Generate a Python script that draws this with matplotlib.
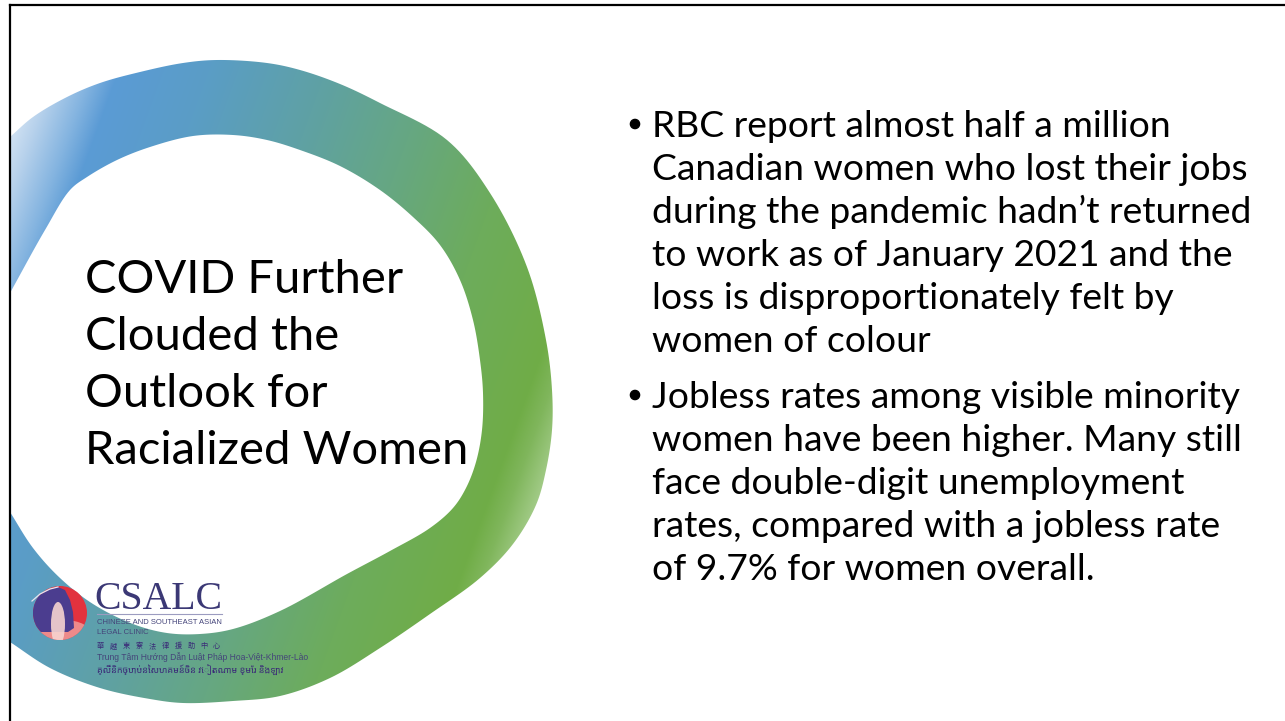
"""Slide recreation: COVID Further Clouded the Outlook for Racialized Women."""
import matplotlib
matplotlib.use("Agg")
import matplotlib.pyplot as plt
import numpy as np
from matplotlib.patches import Polygon, Circle, Ellipse

W, H = 1285, 721

# ---------------------------------------------------------------------------
# Texts
# ---------------------------------------------------------------------------
TITLE_LINES = ["COVID Further", "Clouded the", "Outlook for", "Racialized Women"]
TITLE_BASELINES = [293, 350, 407, 464]

BULLETS = [
    ["RBC report almost half a million",
     "Canadian women who lost their jobs",
     "during the pandemic hadn\u2019t returned",
     "to work as of January 2021 and the",
     "loss is disproportionately felt by",
     "women of colour"],
    ["Jobless rates among visible minority",
     "women have been higher. Many still",
     "face double-digit unemployment",
     "rates, compared with a jobless rate",
     "of 9.7% for women overall."],
]
BULLET_BASELINES = [[137, 180, 223, 266, 309, 352],
                    [408, 451, 494, 537, 580]]

LOGO_NAME = "CSALC"
LOGO_LINES = ["CHINESE AND SOUTHEAST ASIAN", "LEGAL CLINIC"]
LOGO_ZH = "華越柬寮法律援助中心"
LOGO_VI = "Trung Tâm Hướng Dẫn Luật Pháp Hoa-Việt-Khmer-Lào"
LOGO_KM = "គ្លីនិកច្បាប់នៃសហគមន៍ចិន វៀតណាម ខ្មែរ និងឡាវ"

# ---------------------------------------------------------------------------
# Ring outline (pixel coords, y down)
# ---------------------------------------------------------------------------
OUTER_X = [10, 33, 67, 100, 140, 183, 217, 267, 300, 340, 380, 447, 490, 527,
           546, 552, 552, 546, 536, 513, 480, 430, 380, 330, 280, 233, 183,
           150, 100, 50, 10]
OUTER_Y = [137, 117, 97, 83, 72, 63, 60, 63, 70, 84, 103, 140, 193, 267,
           340, 390, 430, 470, 505, 544, 578, 614, 648, 678, 696, 701, 703,
           699, 688, 668, 642]
INNER_X = [10, 33, 60, 93, 133, 167, 200, 233, 280, 347, 390, 430, 453, 466,
           476, 482, 483, 480, 473, 460, 440, 413, 380, 340, 300, 267, 233,
           193, 150, 117, 87, 70, 45, 10]
INNER_Y = [512, 548, 578, 604, 624, 633, 634, 629, 611, 574, 551, 528, 508,
           488, 462, 430, 393, 360, 320, 280, 245, 217, 190, 166, 150, 140,
           135, 136, 147, 160, 177, 190, 230, 293]

# gradient stops along a slightly tilted horizontal axis
GRAD_POS = [40, 75, 110, 135, 220, 330, 430, 530, 630, 650, 690]
GRAD_COL = ["#e4eef8", "#b8d2ec", "#84b4e0", "#5b9bd5", "#5a9dc6", "#5fa1a4",
            "#66a782", "#6dac5c", "#70ad47", "#80b65c", "#b4d69e"]
GRAD_ANGLE = 20.0


def catmull_rom(xs, ys, n=12):
    """Smooth an open outline through its control points (centripetal)."""
    p = np.column_stack([xs, ys]).astype(float)
    p = np.vstack([2 * p[0] - p[1], p, 2 * p[-1] - p[-2]])
    out = []
    for i in range(1, len(p) - 2):
        p0, p1, p2, p3 = p[i - 1], p[i], p[i + 1], p[i + 2]
        t0 = 0.0
        t1 = t0 + np.linalg.norm(p1 - p0) ** 0.5
        t2 = t1 + np.linalg.norm(p2 - p1) ** 0.5
        t3 = t2 + np.linalg.norm(p3 - p2) ** 0.5
        t = np.linspace(t1, t2, n, endpoint=False)[:, None]
        a1 = (t1 - t) / (t1 - t0) * p0 + (t - t0) / (t1 - t0) * p1
        a2 = (t2 - t) / (t2 - t1) * p1 + (t - t1) / (t2 - t1) * p2
        a3 = (t3 - t) / (t3 - t2) * p2 + (t - t2) / (t3 - t2) * p3
        b1 = (t2 - t) / (t2 - t0) * a1 + (t - t0) / (t2 - t0) * a2
        b2 = (t3 - t) / (t3 - t1) * a2 + (t - t1) / (t3 - t1) * a3
        out.append((t2 - t) / (t2 - t1) * b1 + (t - t1) / (t2 - t1) * b2)
    out.append(p[-2][None, :])
    return np.vstack(out)


def hex_rgb(c):
    c = c.lstrip("#")
    return [int(c[i:i + 2], 16) / 255 for i in (0, 2, 4)]


def fit_size(ax, text, target_px, **kw):
    """Font size (pt) that gives `text` a width of `target_px`."""
    t = ax.text(0, 0, text, fontsize=20, **kw)
    r = ax.figure.canvas.get_renderer()
    w = t.get_window_extent(renderer=r).width
    t.remove()
    return 20 * target_px / w


fig = plt.figure(figsize=(W / 100, H / 100), dpi=100)
ax = fig.add_axes([0, 0, 1, 1])
ax.set_xlim(0, W)
ax.set_ylim(H, 0)
ax.axis("off")

# ---- ring with gradient -----------------------------------------------------
outer = catmull_rom(OUTER_X, OUTER_Y)
inner = catmull_rom(INNER_X, INNER_Y)
ring = Polygon(np.vstack([outer, inner]), closed=True, facecolor="none",
               edgecolor="none")
ax.add_patch(ring)

yy, xx = np.mgrid[0:H, 0:W]
a = np.deg2rad(GRAD_ANGLE)
v = xx * np.cos(a) + yy * np.sin(a)
cols = np.array([hex_rgb(c) for c in GRAD_COL])
img = np.dstack([np.interp(v, GRAD_POS, cols[:, k]) for k in range(3)])
im = ax.imshow(img, extent=(0, W, H, 0), origin="upper", zorder=1,
               interpolation="bilinear")
im.set_clip_path(ring)

# ---- slide border -------------------------------------------------------------
ax.plot([10, W], [5, 5], color="black", lw=1.6, zorder=5)
ax.plot([10, 10], [5, H], color="black", lw=1.6, zorder=5)

# ---- title -----------------------------------------------------------------------
title_kw = dict(family=["Lato", "DejaVu Sans"], weight="normal", color="black")
ts = fit_size(ax, TITLE_LINES[-1], 383, **title_kw)
for line, yb in zip(TITLE_LINES, TITLE_BASELINES):
    ax.text(85, yb, line, fontsize=ts, va="baseline", ha="left", zorder=4,
            **title_kw)

# ---- bullets ----------------------------------------------------------------------
body_kw = dict(family=["Lato", "DejaVu Sans"], color="black")
bs = fit_size(ax, BULLETS[0][2], 601, **body_kw)
for lines, bases in zip(BULLETS, BULLET_BASELINES):
    ax.add_patch(Circle((635, bases[0] - 13), 4.6, color="black", zorder=4))
    for line, yb in zip(lines, bases):
        ax.text(652, yb, line, fontsize=bs, va="baseline", ha="left",
                zorder=4, **body_kw)

# ---- logo ---------------------------------------------------------------------------
cx, cy, r = 60, 613, 27
disc = Circle((cx, cy), r, facecolor="#e2323e", edgecolor="none", zorder=6)
ax.add_patch(disc)
glow = Ellipse((cx + 4, cy + 22), 56, 30, facecolor="#f2a8a4", alpha=0.75,
               edgecolor="none", zorder=6)
ax.add_patch(glow)
glow.set_clip_path(disc)
arch = Polygon([(30, 632), (31, 606), (38, 596), (48, 590), (58, 587),
                (65, 590), (70, 600), (73, 612), (74, 628), (68, 632)],
               closed=True, facecolor="#4b3d8f", edgecolor="none", zorder=7)
ax.add_patch(arch)
arch.set_clip_path(disc)
ax.plot([32, 40, 50, 58], [601, 594, 589, 587], color="#e8e4f0", lw=0.9,
        zorder=7.5)
tower = Ellipse((58, 624), 14, 44, facecolor="#f6d4d0", alpha=0.9,
                edgecolor="none", zorder=7)
ax.add_patch(tower)
tower.set_clip_path(disc)

navy = "#3b3875"
serif = ["Liberation Serif", "DejaVu Serif"]
ax.text(94, 609, LOGO_NAME, family=serif,
        fontsize=fit_size(ax, LOGO_NAME, 128, family=serif),
        color=navy, va="baseline", zorder=8)
ax.plot([97, 222], [614, 614], color="#9c9cc0", lw=0.8, zorder=8)
small_kw = dict(family=["Liberation Sans", "DejaVu Sans"], color="#44447a")
ss = fit_size(ax, LOGO_LINES[0], 124, **small_kw)
ax.text(97, 624.5, LOGO_LINES[0], fontsize=ss, va="baseline", zorder=8,
        **small_kw)
ax.text(97, 633.5, LOGO_LINES[1], fontsize=ss, va="baseline", zorder=8,
        **small_kw)
for i, ch in enumerate(LOGO_ZH):
    ax.text(97 + i * 12.9, 648, ch, family=["Noto Sans CJK TC", "DejaVu Sans"],
            fontsize=5.2, color="#3a2a78", va="baseline", zorder=8)
ax.text(97, 660, LOGO_VI, fontsize=fit_size(ax, LOGO_VI, 210, **small_kw),
        va="baseline", zorder=8, **small_kw)
ax.text(97, 673, LOGO_KM, family=["Noto Sans Khmer", "DejaVu Sans"],
        fontsize=6.5, color="#3a2a78", va="baseline", zorder=8)

fig.savefig("out.png", dpi=100)
